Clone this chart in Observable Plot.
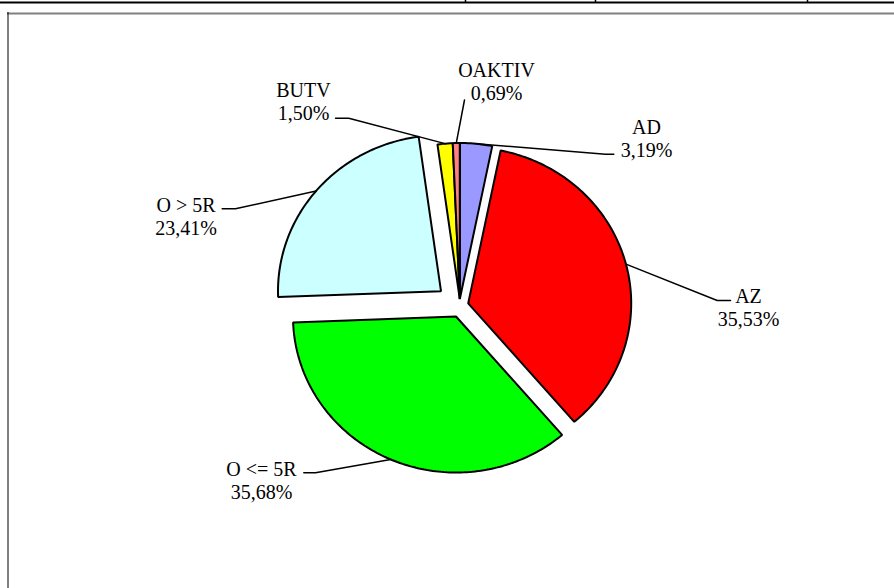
<!DOCTYPE html>
<html><head><meta charset="utf-8">
<script src="https://cdn.jsdelivr.net/npm/d3@7"></script>
<script src="https://cdn.jsdelivr.net/npm/@observablehq/plot@0.6"></script>
<style>body{margin:0;background:#fff}</style>
</head><body><div id="chart"></div>
<script>
// ---- data ----
const categories = ["AD", "AZ", "O <= 5R", "O > 5R", "BUTV", "OAKTIV"];
const shares = [3.19, 35.53, 35.68, 23.41, 1.50, 0.69];
const valueLabels = ["3,19%", "35,53%", "35,68%", "23,41%", "1,50%", "0,69%"];
const colors = ["#9999FF", "#FF0000", "#00FF00", "#CCFFFF", "#FFFF00", "#FF8080"];

// ---- layout ----
const W = 894, H = 588;
const center = [459.3, 298.5], rx = 163, ry = 156;
const explode = [[0, 0], [8.4, 4.4], [-3.8, 17.5], [-18.8, -7.8], [0, 0], [0, 0]];
const labelAt = [[646, 131.7], [748, 300], [261, 473.3], [185.5, 209], [303, 94.3], [496, 74.5]];
const leaderFrom = [
  [[613.3, 153.7], [605, 153.7]],
  [[730, 300], [716.7, 300]],
  [[303.3, 472.3], [315, 472.3]],
  [[221.7, 208.3], [235, 208.3]],
  [[335, 117.7], [348.3, 117.7]],
  [[464, 99.5]]
];
const fontFamily = "'Liberation Serif', 'Times New Roman', serif";

const arcs = d3.pie().sort(null).startAngle(0).endAngle(2 * Math.PI)(shares);
const pt = (i, a) => ({
  x: center[0] + explode[i][0] + rx * Math.sin(a),
  y: center[1] + explode[i][1] - ry * Math.cos(a)
});

const sliceMarks = arcs.map((arc, i) => {
  const pts = [{x: center[0] + explode[i][0], y: center[1] + explode[i][1]}];
  const n = Math.max(2, Math.ceil((arc.endAngle - arc.startAngle) / (Math.PI / 180)));
  for (let k = 0; k <= n; k++) pts.push(pt(i, arc.startAngle + (arc.endAngle - arc.startAngle) * k / n));
  return Plot.line(pts, {x: "x", y: "y", fill: colors[i], stroke: "black", strokeWidth: 2,
    strokeLinejoin: "miter", curve: "linear-closed"});
});

const leaderMarks = arcs.map((arc, i) => {
  const mid = pt(i, (arc.startAngle + arc.endAngle) / 2);
  const pts = leaderFrom[i].map(([x, y]) => ({x, y})).concat([mid]);
  return Plot.line(pts, {x: "x", y: "y", stroke: "black", strokeWidth: 1.5});
});

const labels = categories.map((c, i) => ({
  x: labelAt[i][0], y: labelAt[i][1] - 0.71 * 20, text: c + "\n" + valueLabels[i]
}));

const plot = Plot.plot({
  width: W, height: H,
  margin: 0,
  x: {domain: [0, W], range: [0, W], axis: null},
  y: {domain: [0, H], range: [0, H], axis: null},
  style: {background: "white", fontFamily},
  marks: [
    Plot.ruleY([{y: 2, x1: 0, x2: W}], {y: "y", x1: "x1", x2: "x2", stroke: "black", strokeWidth: 2}),
    Plot.ruleX([465, 595, 807], {y1: 0, y2: 2, stroke: "black", strokeWidth: 1.5}),
    Plot.ruleY([{y: 13, x1: 7, x2: W}], {y: "y", x1: "x1", x2: "x2", stroke: "#808080", strokeWidth: 2}),
    Plot.ruleX([{x: 7.5, y1: 12, y2: H}], {x: "x", y1: "y1", y2: "y2", stroke: "black", strokeWidth: 1}),
    ...sliceMarks,
    ...leaderMarks,
    Plot.text(labels, {x: "x", y: "y", text: "text", textAnchor: "middle", lineAnchor: "top",
      lineHeight: 1.15, fontSize: 20, fontFamily, fill: "black"})
  ]
});
document.getElementById("chart").appendChild(plot);
</script>
</body></html>
